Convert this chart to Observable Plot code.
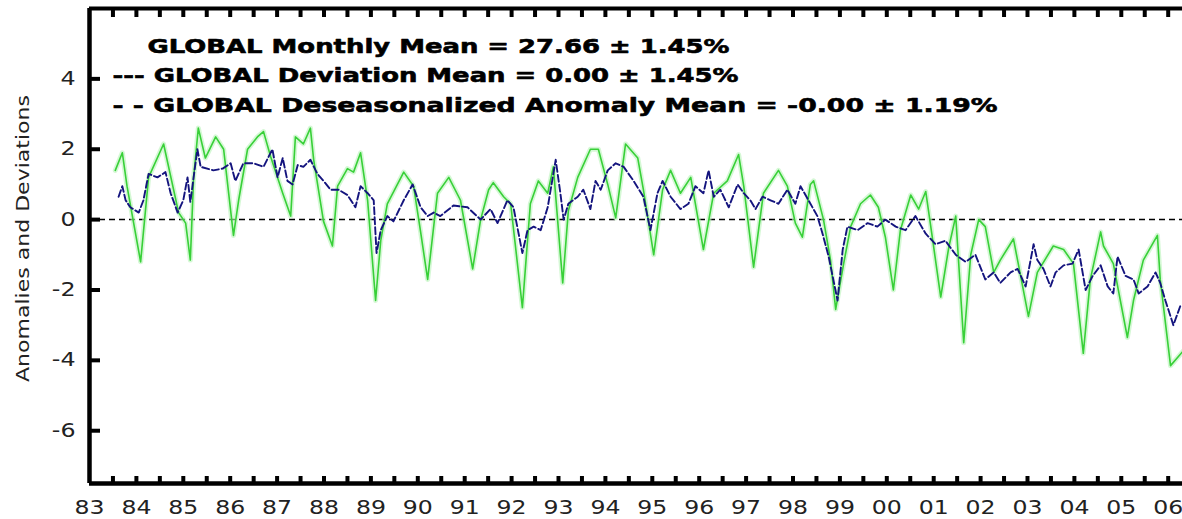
<!DOCTYPE html>
<html><head><meta charset="utf-8">
<script src="https://cdn.jsdelivr.net/npm/d3@7"></script>
<script src="https://cdn.jsdelivr.net/npm/@observablehq/plot@0.6"></script>
<style>
html,body{margin:0;padding:0;background:#fff;overflow:hidden;}
#chart{width:1182px;height:519px;}
</style></head><body><div id="chart"></div>
<script>
// Monthly deviation (green, solid) — decimal year / value
const greenYear = [1983.55,1983.70,1983.80,1984.09,1984.26,1984.58,1984.90,1985.05,1985.15,1985.22,1985.32,1985.47,1985.69,1985.86,1986.07,1986.18,1986.37,1986.58,1986.71,1986.86,1987.12,1987.29,1987.39,1987.56,1987.71,1987.78,1987.99,1988.18,1988.29,1988.50,1988.63,1988.78,1988.93,1989.10,1989.21,1989.35,1989.70,1989.91,1990.06,1990.21,1990.42,1990.66,1990.91,1991.17,1991.34,1991.51,1991.61,1991.83,1991.98,1992.23,1992.40,1992.57,1992.77,1992.89,1993.09,1993.21,1993.41,1993.68,1993.85,1994.05,1994.22,1994.43,1994.69,1994.81,1995.03,1995.22,1995.39,1995.60,1995.82,1996.09,1996.31,1996.60,1996.84,1996.95,1997.16,1997.37,1997.69,1997.88,1998.05,1998.20,1998.37,1998.44,1998.65,1998.80,1998.91,1999.08,1999.23,1999.44,1999.65,1999.82,1999.97,2000.14,2000.29,2000.51,2000.68,2000.83,2000.97,2001.15,2001.32,2001.47,2001.64,2001.79,2001.96,2002.10,2002.28,2002.42,2002.70,2002.81,2003.02,2003.21,2003.55,2003.77,2003.98,2004.19,2004.34,2004.56,2004.62,2004.83,2005.13,2005.26,2005.47,2005.77,2005.83,2006.05,2006.31];
const greenValue = [1.4,1.9,0.95,-1.2,1.2,2.15,0.2,-0.1,-1.15,1.2,2.6,1.75,2.35,2.0,-0.45,0.55,2.0,2.35,2.5,1.8,0.75,0.1,2.35,2.15,2.6,1.7,-0.05,-0.75,0.95,1.45,1.35,1.9,0.55,-2.3,-0.6,0.45,1.35,0.95,-0.35,-1.7,0.75,1.2,0.55,-1.4,0,0.85,1.05,0.65,0.45,-2.5,0.45,1.1,0.75,1.5,-1.8,0.25,1.2,2.0,2.0,1.0,0.05,2.15,1.75,0.85,-1.0,0.85,1.4,0.75,1.2,-0.85,0.75,1.1,1.85,0.95,-1.35,0.75,1.4,0.95,-0.1,-0.5,1.0,1.1,0,-1.15,-2.55,-1.25,-0.2,0.45,0.7,0.35,-0.5,-2.0,-0.3,0.7,0.3,0.8,-0.5,-2.2,-0.8,0.1,-3.5,-1.0,0.0,-0.2,-1.5,-1.15,-0.55,-1.3,-2.75,-1.5,-0.75,-0.85,-1.25,-3.8,-1.7,-0.35,-0.75,-1.25,-3.35,-2.3,-1.15,-0.45,-1.7,-4.15,-3.75];

// Deseasonalized anomaly (dark blue, dashed)
const blueYear = [1983.62,1983.70,1983.77,1983.87,1984.05,1984.15,1984.26,1984.45,1984.62,1984.73,1984.88,1985.00,1985.09,1985.15,1985.30,1985.37,1985.64,1985.84,1986.01,1986.11,1986.28,1986.50,1986.71,1986.90,1987.01,1987.12,1987.22,1987.33,1987.44,1987.56,1987.71,1987.86,1987.99,1988.14,1988.31,1988.50,1988.67,1988.78,1988.93,1989.06,1989.12,1989.21,1989.35,1989.48,1989.70,1989.89,1990.06,1990.21,1990.34,1990.48,1990.76,1991.06,1991.34,1991.55,1991.70,1991.91,1992.04,1992.23,1992.34,1992.47,1992.62,1992.77,1992.94,1993.04,1993.11,1993.21,1993.41,1993.53,1993.68,1993.79,1993.90,1994.05,1994.22,1994.39,1994.60,1994.81,1994.96,1995.11,1995.22,1995.39,1995.60,1995.77,1995.92,1996.09,1996.20,1996.31,1996.45,1996.63,1996.82,1996.95,1997.09,1997.20,1997.35,1997.52,1997.69,1997.88,1998.05,1998.16,1998.33,1998.52,1998.63,1998.76,1998.95,1999.06,1999.16,1999.38,1999.59,1999.80,1999.97,2000.19,2000.40,2000.61,2000.83,2001.04,2001.25,2001.47,2001.68,2001.89,2002.10,2002.28,2002.42,2002.64,2002.79,2002.96,2003.13,2003.21,2003.34,2003.49,2003.60,2003.77,2003.96,2004.09,2004.24,2004.39,2004.56,2004.71,2004.83,2004.92,2005.09,2005.26,2005.37,2005.56,2005.73,2005.83,2005.94,2006.05,2006.11,2006.26];
const blueValue = [0.65,0.95,0.55,0.35,0.2,0.55,1.3,1.2,1.35,0.75,0.2,0.55,1.2,0.5,2.0,1.5,1.4,1.45,1.6,1.1,1.6,1.6,1.5,2.0,1.2,1.75,1.1,1.0,1.55,1.5,1.7,1.3,1.1,0.85,0.85,0.7,0.35,0.95,0.75,0.55,-0.95,-0.3,0.1,-0.05,0.55,1.0,0.35,0.1,0.2,0.1,0.4,0.35,0.0,0.3,-0.1,0.55,0.35,-0.95,-0.3,-0.2,-0.3,0.35,1.7,0.75,0.0,0.45,0.65,0.85,0.3,1.1,0.85,1.4,1.6,1.5,1.1,0.65,-0.3,0.75,1.1,0.65,0.3,0.45,0.95,0.75,1.4,0.65,0.85,0.35,1.0,0.75,0.55,0.3,0.65,0.55,0.45,0.85,0.45,0.95,0.55,0.1,-0.4,-1.05,-2.3,-0.85,-0.2,-0.3,-0.1,-0.2,0.0,-0.2,-0.3,0.1,-0.4,-0.7,-0.6,-1.0,-1.2,-1.0,-1.7,-1.5,-1.8,-1.5,-1.4,-1.9,-0.7,-1.15,-1.4,-1.9,-1.5,-1.3,-1.25,-0.85,-2.0,-1.6,-1.3,-1.9,-2.1,-1.05,-1.6,-1.7,-2.1,-1.9,-1.5,-1.8,-2.3,-2.75,-3.0,-2.45];

const legendLines = [
  "GLOBAL Monthly Mean = 27.66 \u00b1 1.45%",
  "--- GLOBAL Deviation Mean = 0.00 \u00b1 1.45%",
  "- - GLOBAL Deseasonalized Anomaly Mean = -0.00 \u00b1 1.19%"
];
const yAxisTitle = "Anomalies and Deviations";
const yTicks = [-6, -4, -2, 0, 2, 4];
const yearLabels = d3.range(1983, 2007);
const halfYearTicks = d3.range(1983.5, 2006.3, 0.5);
const xDomain = [1983, 2006.305];
const yDomain = [-7.5, 6];

const green = greenYear.map((x, i) => ({x, v: greenValue[i]}));
const blue = blueYear.map((x, i) => ({x, v: blueValue[i]}));

const W = 1182, H = 519, mL = 89, mT = 8, mB = 36, mR = 0;
const fw = W - mL - mR, fh = H - mT - mB;
const labelFont = "DejaVu Sans, sans-serif";
const boldFont = "DejaVu Sans, sans-serif";

const chart = Plot.plot({
  width: W, height: H,
  marginLeft: mL, marginRight: mR, marginTop: mT, marginBottom: mB,
  x: {domain: xDomain, axis: null},
  y: {domain: yDomain, axis: null},
  style: {background: "#fff", overflow: "hidden"},
  marks: [
    Plot.ruleY([0], {stroke: "#000", strokeWidth: 1.5, strokeDasharray: "6,4"}),
    Plot.line(green, {x: "x", y: "v", stroke: "#b9f3b9", strokeWidth: 5, strokeOpacity: 0.6}),
    Plot.line(green, {x: "x", y: "v", stroke: "#38d038", strokeWidth: 1.6}),
    Plot.line(blue, {x: "x", y: "v", stroke: "#14147e", strokeWidth: 1.9, strokeDasharray: "7,3"}),
    Plot.ruleX([xDomain[0]], {stroke: "#000", strokeWidth: 4.5}),
    Plot.ruleY([yDomain[0]], {stroke: "#000", strokeWidth: 4.5}),
    Plot.ruleY([yDomain[1]], {stroke: "#000", strokeWidth: 4}),
    Plot.tickX(halfYearTicks, {x: d => d, insetTop: fh - 7, stroke: "#000", strokeWidth: 4}),
    Plot.tickX(halfYearTicks, {x: d => d, insetBottom: fh - 9, stroke: "#000", strokeWidth: 4}),
    Plot.tickY(yTicks, {y: d => d, insetRight: fw - 11, stroke: "#000", strokeWidth: 4}),
    Plot.text(yearLabels, {x: d => d, frameAnchor: "bottom", dx: -15, dy: 24, textAnchor: "start", lineAnchor: "middle",
      text: d => String(d % 100).padStart(2, "0"), fontSize: 19, fontFamily: labelFont, fill: "#222"}),
    Plot.text(yTicks, {y: d => d, frameAnchor: "left", dx: -14, textAnchor: "end", lineAnchor: "middle",
      text: d => String(d), fontSize: 19, fontFamily: labelFont, fill: "#222"}),
    Plot.text([yAxisTitle], {frameAnchor: "left", dx: -66, dy: 136, rotate: -90, textAnchor: "start", lineAnchor: "middle",
      text: d => d, fontSize: 18, fontFamily: labelFont, fill: "#222"}),
    Plot.text([legendLines[0]], {frameAnchor: "top-left", dx: 58, dy: 30, textAnchor: "start", lineAnchor: "top",
      text: d => d, fontSize: 20, fontWeight: "bold", fontFamily: boldFont, fill: "#000", stroke: "#000", strokeWidth: 0.6}),
    Plot.text([legendLines[1]], {frameAnchor: "top-left", dx: 23, dy: 59, textAnchor: "start", lineAnchor: "top",
      text: d => d, fontSize: 20, fontWeight: "bold", fontFamily: boldFont, fill: "#000", stroke: "#000", strokeWidth: 0.6}),
    Plot.text([legendLines[2]], {frameAnchor: "top-left", dx: 23, dy: 89, textAnchor: "start", lineAnchor: "top",
      text: d => d, fontSize: 20, fontWeight: "bold", fontFamily: boldFont, fill: "#000", stroke: "#000", strokeWidth: 0.6})
  ]
});
document.getElementById("chart").appendChild(chart);

// stretch text widths to match the wide original lettering
const targetWidth = new Map([
  [legendLines[0], 582], [legendLines[1], 626], [legendLines[2], 885], [yAxisTitle, 287]
]);
chart.querySelectorAll("text").forEach(t => {
  const s = t.textContent;
  let w = targetWidth.get(s);
  if (w == null) {
    const natural = t.getComputedTextLength();
    w = s.length === 2 && !s.startsWith("-") ? 30 : natural * 1.25;
  }
  t.setAttribute("textLength", w);
  t.setAttribute("lengthAdjust", "spacingAndGlyphs");
});
</script>
</body></html>
